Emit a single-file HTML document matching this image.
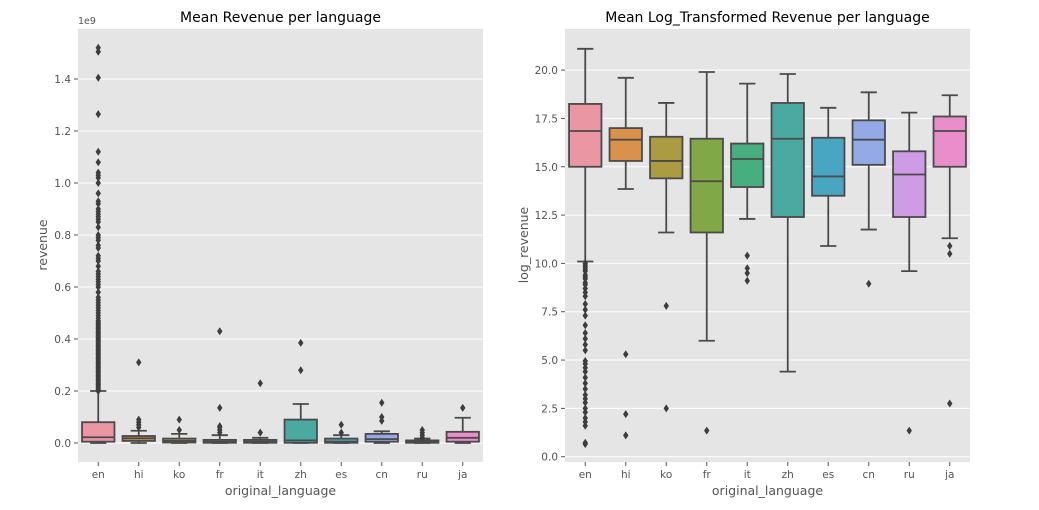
<!DOCTYPE html>
<html><head><meta charset="utf-8"><style>
body{margin:0;background:#fff;width:1039px;height:505px;overflow:hidden}
svg{font-family:"DejaVu Sans","Liberation Sans",sans-serif}
</style></head><body>
<svg id="svg" width="1039" height="505" viewBox="0 0 1039 505" xmlns="http://www.w3.org/2000/svg"></svg>
<script>
const categories=["en","hi","ko","fr","it","zh","es","cn","ru","ja"];
const colors=["#EA96A3","#D9914B","#AB9B43","#80A846","#47AE7F","#4AAAA2","#48A6C2","#93AAE6","#CE9BE5","#EA8ECB"];
// revenue (1e9): [whiskerLo, q1, median, q3, whiskerHi]
const revStats=[[0,.005,.022,.08,.2],[0,.008,.018,.027,.047],[0,.002,.008,.017,.035],[0,.001,.005,.012,.03],[0,.001,.005,.012,.02],[0,.001,.01,.09,.15],[0,.001,.005,.017,.03],[0,.005,.015,.035,.045],[0,.001,.004,.01,.017],[0,.005,.02,.043,.097]];
const revOutliers=[
[.2,.205,.21,.215,.22,.225,.23,.235,.24,.245,.25,.255,.26,.265,.27,.275,.28,.285,.29,.295,.3,.305,.31,.315,.32,.325,.33,.335,.34,.345,.35,.355,.36,.365,.37,.375,.38,.385,.39,.395,.4,.405,.41,.415,.42,.425,.43,.435,.44,.445,.45,.455,.46,.465,.47,.48,.49,.5,.51,.52,.53,.54,.55,.56,.58,.6,.61,.62,.63,.64,.65,.66,.68,.7,.71,.72,.75,.76,.78,.79,.8,.83,.85,.86,.87,.88,.89,.9,.92,.93,.96,1.0,1.02,1.03,1.04,1.08,1.12,1.265,1.405,1.505,1.52],
[.06,.07,.08,.09,.31],[.05,.09],[.04,.05,.06,.065,.135,.43],[.04,.23],[.28,.385],[.04,.07],[.085,.1,.155],[.02,.03,.04,.05],[.135]];
const revTicks=[0,.2,.4,.6,.8,1.0,1.2,1.4];
const logStats=[[10.1,15.0,16.85,18.25,21.1],[13.85,15.3,16.4,17.0,19.6],[11.6,14.4,15.3,16.55,18.3],[6.0,11.6,14.25,16.45,19.9],[12.3,13.95,15.4,16.2,19.3],[4.4,12.4,16.45,18.3,19.8],[10.9,13.5,14.5,16.5,18.05],[11.75,15.1,16.4,17.4,18.85],[9.6,12.4,14.6,15.8,17.8],[11.3,15.0,16.85,17.6,18.7]];
const logOutliers=[
[0.65,0.72,1.6,1.8,2.0,2.3,2.5,2.8,3.0,3.2,3.5,3.8,4.1,4.4,4.6,4.8,4.95,5.5,5.8,6.1,6.4,6.8,7.3,7.6,7.9,8.3,8.5,8.7,8.9,9.0,9.2,9.3,9.4,9.6,9.7,9.8,9.9,10.0],
[5.3,2.2,1.1],[7.8,2.5],[1.35],[10.4,9.75,9.5,9.1],[],[],[8.95],[1.35],[10.9,10.5,2.75]];
const logTicks=[0,2.5,5,7.5,10,12.5,15,17.5,20];

const svg=document.getElementById('svg');
const NS="http://www.w3.org/2000/svg";
function mk(tag,attrs,parent,name){const e=document.createElementNS(NS,tag);for(const k in attrs)e.setAttribute(k,attrs[k]);


(parent||svg).appendChild(e);return e;}
function txt(s,attrs,name){const e=mk('text',attrs,svg,name);e.textContent=s;return e;}

function panel(p){
  const g=mk('g',{},svg,p.id+'-plot');
  mk('rect',{x:p.x0,y:29,width:p.x1-p.x0,height:433,fill:'#E5E5E5'},g,'plot-background');
  const y=v=>p.yz-v*p.ys;
  const step=(p.x1-p.x0)/categories.length;
  const cx=i=>p.x0+step*(i+0.5);
  p.ticks.forEach(t=>{
    mk('line',{x1:p.x0,x2:p.x1,y1:y(t),y2:y(t),stroke:'#fff','stroke-width':1},g,'gridline');
    mk('line',{x1:p.x0-4,x2:p.x0,y1:y(t),y2:y(t),stroke:'#555'},g,'y-tick');
    txt(p.fmt(t),{x:p.x0-7,y:y(t)+4,'text-anchor':'end','font-size':10.5,fill:'#555'},'y-tick-label');
  });
  const bw=step*0.8;
  categories.forEach((c,i)=>{
    const s=p.stats[i],x=cx(i),bg=mk('g',{},g,'box-'+c);
    mk('line',{x1:x,x2:x,y1:y(s[0]),y2:y(s[1]),stroke:'#4a4a4a','stroke-width':1.8},bg,'whisker-low');
    mk('line',{x1:x,x2:x,y1:y(s[3]),y2:y(s[4]),stroke:'#4a4a4a','stroke-width':1.8},bg,'whisker-high');
    mk('line',{x1:x-bw/4,x2:x+bw/4,y1:y(s[0]),y2:y(s[0]),stroke:'#4a4a4a','stroke-width':1.8},bg,'cap-low');
    mk('line',{x1:x-bw/4,x2:x+bw/4,y1:y(s[4]),y2:y(s[4]),stroke:'#4a4a4a','stroke-width':1.8},bg,'cap-high');
    mk('rect',{x:x-bw/2,y:y(s[3]),width:bw,height:Math.max(1,y(s[1])-y(s[3])),fill:colors[i],stroke:'#4a4a4a','stroke-width':1.8},bg,'box-iqr');
    mk('line',{x1:x-bw/2,x2:x+bw/2,y1:y(s[2]),y2:y(s[2]),stroke:'#4a4a4a','stroke-width':1.8},bg,'median-line');
    p.out[i].forEach(v=>{const yy=y(v);
      mk('path',{d:`M${x} ${yy-4}L${x+2.7} ${yy}L${x} ${yy+4}L${x-2.7} ${yy}Z`,fill:'#3d3d3d'},bg,'outlier');});
    mk('line',{x1:x,x2:x,y1:462,y2:466,stroke:'#555'},g,'x-tick');
    txt(c,{x:x,y:478,'text-anchor':'middle','font-size':10.5,fill:'#555'},'x-tick-label');
  });
  txt(p.title,{x:(p.x0+p.x1)/2,y:22,'text-anchor':'middle','font-size':14,fill:'#000'},'chart-title');
  txt('original_language',{x:(p.x0+p.x1)/2,y:495,'text-anchor':'middle','font-size':12.5,fill:'#555'},'x-axis-title');
  txt(p.ylab,{x:0,y:0,transform:`translate(${p.ylx},245) rotate(-90)`,'text-anchor':'middle','font-size':12.5,fill:'#555'},'y-axis-title');
}
panel({id:'revenue',x0:78,x1:483,yz:443,ys:260,ticks:revTicks,fmt:t=>t.toFixed(1),stats:revStats,out:revOutliers,title:'Mean Revenue per language',ylab:'revenue',ylx:47});
txt('1e9',{x:78,y:24,'font-size':9.5,fill:'#555'},'y-axis-offset');
panel({id:'log-revenue',x0:565,x1:970,yz:456.7,ys:19.33,ticks:logTicks,fmt:t=>t.toFixed(1),stats:logStats,out:logOutliers,title:'Mean Log_Transformed Revenue per language',ylab:'log_revenue',ylx:528});
</script>
</body></html>
